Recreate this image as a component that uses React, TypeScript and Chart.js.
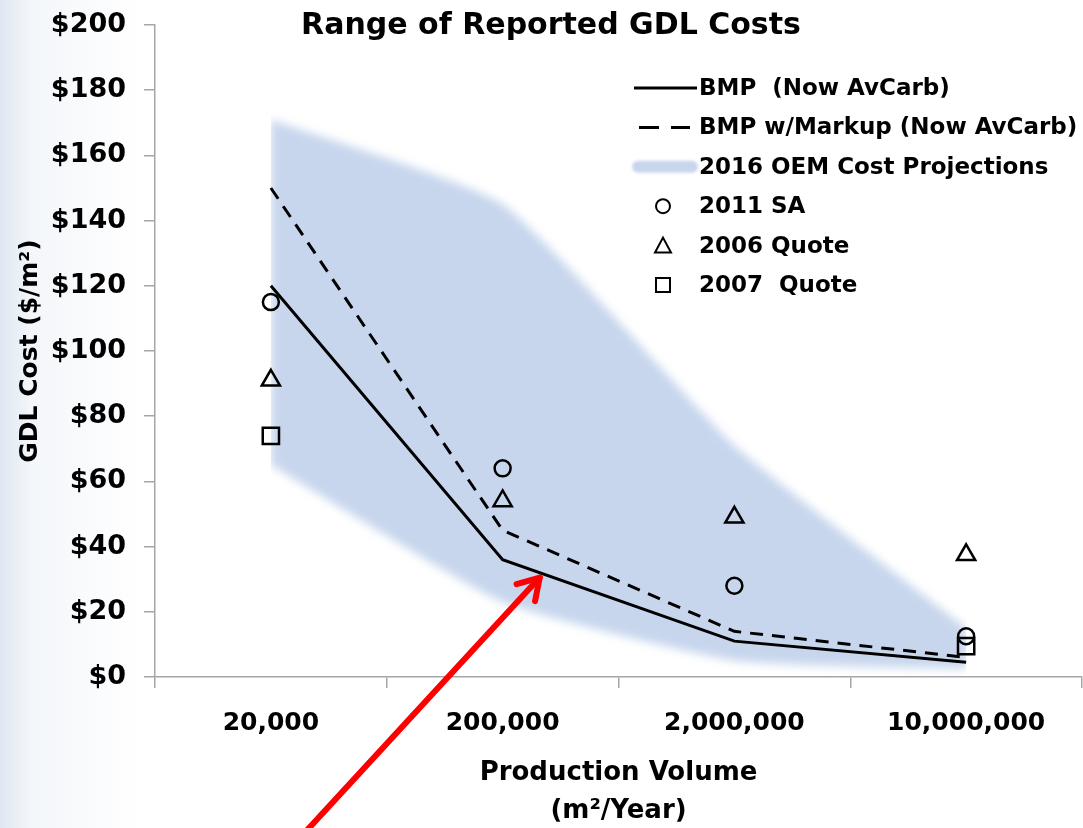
import React, { useEffect, useRef } from "react";
import { Chart, registerables } from "chart.js";

Chart.register(...registerables);

// ---------- data ----------
const categories = ["20,000", "200,000", "2,000,000", "10,000,000"];
const bmp = [120, 36, 11, 4.5];
const bmpMarkup = [150, 45, 14, 6];
const oemUpper = [171, 145, 71, 15];
const oemLower = [65, 23, 5, 2.5];
const sa2011 = [115, 64, 28, 12.5];
const quote2006 = [91, 54, 49, 37.5];
const quote2007 = [74, null, null, 9.5];
const yMin = 0;
const yMax = 200;
const yStep = 20;

const chartTitle = "Range of Reported GDL Costs";
const yTitle = "GDL Cost ($/m\u00B2)";
const xTitle = ["Production Volume", "(m\u00B2/Year)"];
const seriesLabels = [
  "BMP  (Now AvCarb)",
  "BMP w/Markup (Now AvCarb)",
  "2016 OEM Cost Projections",
  "2011 SA",
  "2006 Quote",
  "2007  Quote",
];
// arrow annotation, in data units (category index, $)
const arrowTail = { x: 0.13, y: -49 };
const arrowTip = { x: 1.16, y: 30.5 };

const FONT = "'DejaVu Sans', sans-serif";
const BAND = "rgb(199,214,237)";

const bandBlur = {
  id: "bandBlur",
  beforeDatasetsDraw(chart: any) {
    chart.ctx.save();
    chart.ctx.filter = "blur(5px)";
  },
  afterDatasetDraw(chart: any, args: any) {
    if (args.index === 0) chart.ctx.restore();
  },
};

const overlay = {
  id: "overlay",
  afterDraw(chart: any) {
    const ctx = chart.ctx as CanvasRenderingContext2D;
    const ca = chart.chartArea;
    const xs = chart.scales.x;
    const ys = chart.scales.y;
    ctx.save();
    // title
    ctx.fillStyle = "#000";
    ctx.font = `bold 30px ${FONT}`;
    ctx.textAlign = "center";
    ctx.textBaseline = "middle";
    ctx.fillText(chartTitle, ca.left + 396, ca.top + 1);

    // legend
    const lx = ca.right - 450;
    const ty = ca.top + 63;
    const gap = 39.4;
    ctx.font = `bold 23px ${FONT}`;
    ctx.textAlign = "left";
    seriesLabels.forEach((label, i) => {
      const y = ty + gap * i;
      const sx = lx + 31;
      ctx.save();
      ctx.strokeStyle = "#000";
      ctx.lineWidth = 3;
      if (i === 0) {
        ctx.beginPath();
        ctx.moveTo(lx + 2, y);
        ctx.lineTo(lx + 65, y);
        ctx.stroke();
      } else if (i === 1) {
        ctx.beginPath();
        ctx.moveTo(lx + 7, y);
        ctx.lineTo(lx + 27, y);
        ctx.moveTo(lx + 39, y);
        ctx.lineTo(lx + 58, y);
        ctx.stroke();
      } else if (i === 2) {
        ctx.filter = "blur(1.5px)";
        ctx.strokeStyle = BAND;
        ctx.lineWidth = 12;
        ctx.lineCap = "round";
        ctx.beginPath();
        ctx.moveTo(lx + 6, y);
        ctx.lineTo(lx + 60, y);
        ctx.stroke();
      } else if (i === 3) {
        ctx.lineWidth = 2;
        ctx.beginPath();
        ctx.arc(sx, y, 7, 0, Math.PI * 2);
        ctx.stroke();
      } else if (i === 4) {
        ctx.lineWidth = 2;
        ctx.beginPath();
        ctx.moveTo(sx, y - 8);
        ctx.lineTo(sx + 8, y + 7);
        ctx.lineTo(sx - 8, y + 7);
        ctx.closePath();
        ctx.stroke();
      } else {
        ctx.lineWidth = 2;
        ctx.strokeRect(sx - 7, y - 7, 14, 14);
      }
      ctx.restore();
      ctx.fillStyle = "#000";
      ctx.fillText(label, lx + 67, y + 1);
    });

    // red arrow
    const x0 = xs.getPixelForValue(arrowTail.x);
    const y0 = ys.getPixelForValue(arrowTail.y);
    const x1 = xs.getPixelForValue(arrowTip.x);
    const y1 = ys.getPixelForValue(arrowTip.y);
    const ang = Math.atan2(y1 - y0, x1 - x0);
    ctx.strokeStyle = "#ff0000";
    ctx.lineWidth = 6;
    ctx.lineCap = "round";
    ctx.lineJoin = "round";
    ctx.beginPath();
    ctx.moveTo(x0, y0);
    ctx.lineTo(x1, y1);
    ctx.stroke();
    const L = 24;
    ctx.beginPath();
    ctx.moveTo(x1 - L * Math.cos(ang - 0.55), y1 - L * Math.sin(ang - 0.55));
    ctx.lineTo(x1, y1);
    ctx.lineTo(x1 - L * Math.cos(ang + 0.55), y1 - L * Math.sin(ang + 0.55));
    ctx.stroke();
    ctx.restore();
  },
};

export default function App() {
  const ref = useRef<HTMLCanvasElement | null>(null);

  useEffect(() => {
    if (!ref.current) return;
    const axisColor = "#a6a6a6";
    const chart = new Chart(ref.current, {
      type: "line",
      data: {
        labels: categories,
        datasets: [
          {
            label: seriesLabels[2],
            data: oemUpper,
            borderColor: "transparent",
            borderWidth: 0,
            pointRadius: 0,
            fill: "+1",
            backgroundColor: BAND,
            tension: 0.15,
            order: 20,
          },
          {
            label: "",
            data: oemLower,
            borderColor: "transparent",
            borderWidth: 0,
            pointRadius: 0,
            fill: false,
            tension: 0.15,
            order: 20,
          },
          {
            label: seriesLabels[0],
            data: bmp,
            borderColor: "#000",
            borderWidth: 3,
            pointRadius: 0,
            fill: false,
            tension: 0,
          },
          {
            label: seriesLabels[1],
            data: bmpMarkup,
            borderColor: "#000",
            borderWidth: 3,
            borderDash: [13, 9],
            pointRadius: 0,
            fill: false,
            tension: 0,
          },
          {
            label: seriesLabels[3],
            data: sa2011,
            showLine: false,
            pointStyle: "circle",
            pointRadius: 8,
            pointBorderColor: "#000",
            pointBorderWidth: 2.5,
            pointBackgroundColor: "transparent",
          },
          {
            label: seriesLabels[4],
            data: quote2006,
            showLine: false,
            pointStyle: "triangle",
            pointRadius: 10.5,
            pointBorderColor: "#000",
            pointBorderWidth: 2.5,
            pointBackgroundColor: "transparent",
          },
          {
            label: seriesLabels[5],
            data: quote2007,
            showLine: false,
            pointStyle: "rect",
            pointRadius: 11.5,
            pointBorderColor: "#000",
            pointBorderWidth: 2.5,
            pointBackgroundColor: "transparent",
          },
        ],
      },
      options: {
        responsive: false,
        animation: false,
        devicePixelRatio: 1,
        layout: { autoPadding: false, padding: { top: 25, right: 1, left: 0, bottom: 0 } },
        plugins: {
          legend: { display: false },
          title: { display: false },
          tooltip: { enabled: false },
        },
        scales: {
          x: {
            type: "category",
            offset: true,
            grid: {
              offset: true,
              drawOnChartArea: false,
              drawTicks: true,
              tickLength: 11,
              color: axisColor,
              lineWidth: 1.5,
            },
            border: { color: axisColor, width: 1.5 },
            ticks: {
              color: "#000",
              font: { family: FONT, size: 25, weight: "bold" },
              padding: 20,
              maxRotation: 0,
              autoSkip: false,
            },
            title: {
              display: true,
              text: xTitle,
              color: "#000",
              font: { family: FONT, size: 26, weight: "bold", lineHeight: 1.46 },
              padding: { top: 0, bottom: -2 },
            },
            afterFit: (s: any) => {
              s.height = 151;
              s.paddingLeft = 0;
              s.paddingRight = 0;
            },
          },
          y: {
            min: yMin,
            max: yMax,
            grid: {
              drawOnChartArea: false,
              drawTicks: true,
              tickLength: 11,
              color: axisColor,
              lineWidth: 1.5,
            },
            border: { color: axisColor, width: 1.5 },
            ticks: {
              stepSize: yStep,
              color: "#000",
              font: { family: FONT, size: 27, weight: "bold" },
              padding: 18,
              callback: (v: any) => "$" + v,
            },
            title: {
              display: true,
              text: yTitle,
              color: "#000",
              font: { family: FONT, size: 25, weight: "bold", lineHeight: 1.2 },
              padding: { top: 15, bottom: 0 },
            },
            afterFit: (s: any) => {
              s.width = 155;
              s.paddingTop = 0;
              s.paddingBottom = 0;
            },
          },
        },
      },
      plugins: [bandBlur, overlay],
    } as any);
    return () => chart.destroy();
  }, []);

  return (
    <div
      style={{
        position: "fixed",
        left: 0,
        top: 0,
        width: 1083,
        height: 828,
        background:
          "linear-gradient(90deg, rgb(222,231,241) 0px, rgb(243,246,250) 30px, #ffffff 140px)",
      }}
    >
      <canvas ref={ref} width={1083} height={828} style={{ display: "block" }} />
    </div>
  );
}
